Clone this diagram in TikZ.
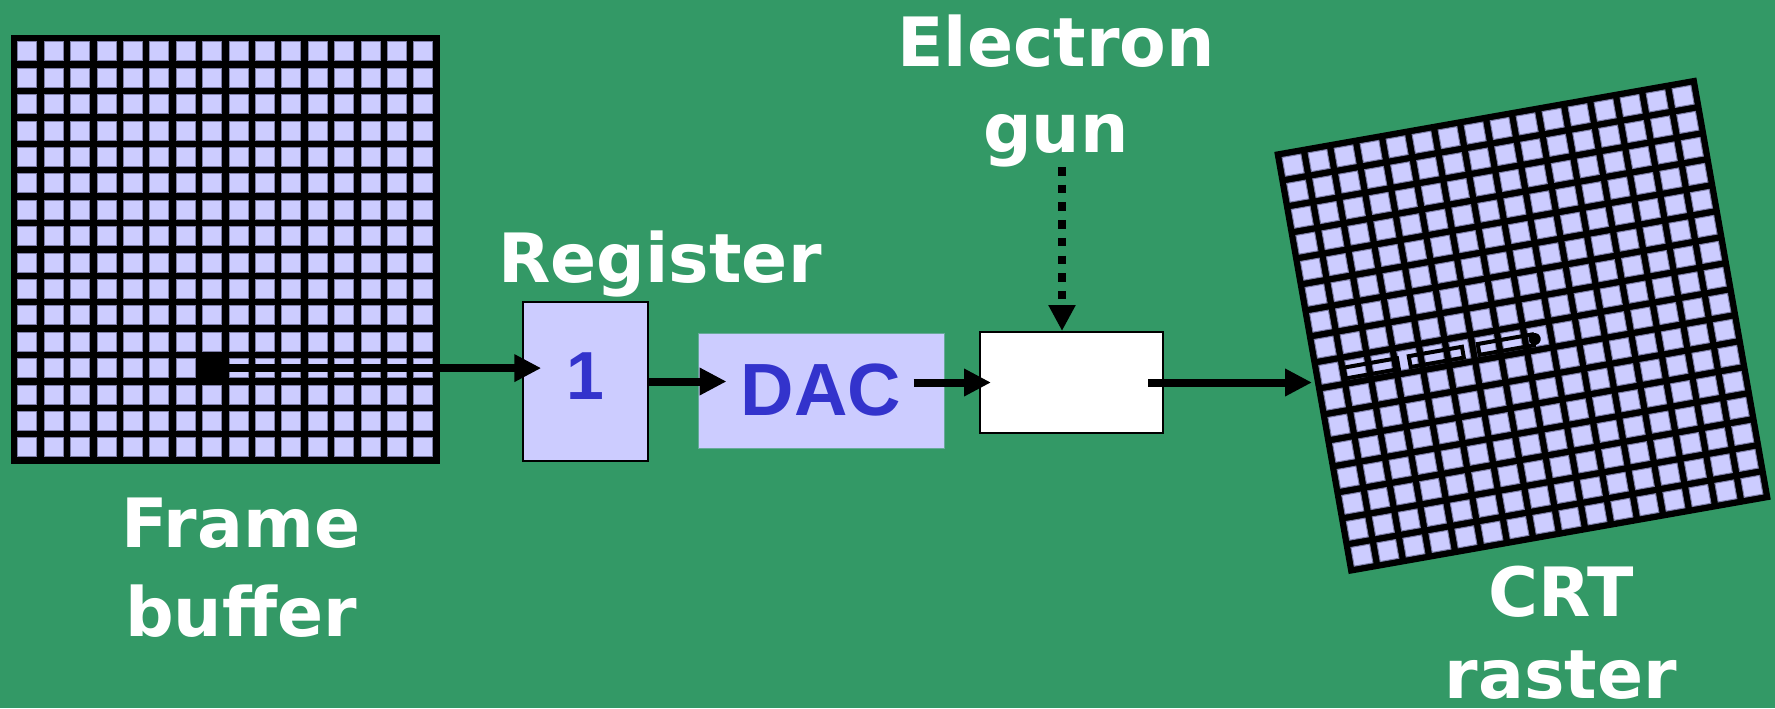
\documentclass[tikz,border=0pt]{standalone}
\usepackage{fontspec}
\usetikzlibrary{arrows.meta}
\newfontfamily\lblfont{DejaVu Sans}
\newfontfamily\boxfont{Liberation Sans}
\definecolor{bg}{HTML}{339966}
\definecolor{lav}{HTML}{CCCCFF}
\definecolor{ink}{HTML}{3333CC}
\definecolor{celledge}{HTML}{7E7EA8}
\definecolor{dacedge}{HTML}{66AA99}

\tikzset{
  cell/.style={fill=lav, draw=celledge, line width=0.5pt},
  lbl/.style={text=white, font=\lblfont\bfseries\fontsize{34}{43}\selectfont, align=center, inner sep=0pt},
  arr/.style={line width=4pt, -{Triangle[length=13.5pt,width=13pt]}},
  beam/.style={line width=4.25pt, dash pattern=on 4.25pt off 4.6pt, -{Triangle[length=13pt,width=12.8pt]}},
  trace/.style={line width=2pt},
}

% 16 x 16 pixel grid, top-left corner at the local origin (units: px);
% each cell is 20px with a thin darker rim drawn just inside it
\newcommand{\pixgrid}{%
  \fill[black] (0,0) rectangle (428.6,428.6);
  \foreach \i in {0,...,15}{\foreach \j in {0,...,15}{%
    \path[cell] ({6.8+\i*26.4},{6.8+\j*26.4}) rectangle ++(19,19);}}%
}

\begin{document}
\begin{tikzpicture}[x=0.5pt,y=-0.5pt]
\fill[bg] (0,0) rectangle (1775,708);
\useasboundingbox (0,0) rectangle (1775,708);

% frame buffer with the pixel being read
\begin{scope}[shift={(11,35)}]
  \pixgrid
  \node[fill=black, minimum size=10pt, inner sep=0pt] (px) at ({6.3+7*26.4+10},{6.3+12*26.4+10}) {};
\end{scope}

% CRT raster, tilted, with the dashed beam trace ending at the spot
\begin{scope}[shift={(1522.5,325.75)}, rotate=10, shift={(-214.3,-214.3)}]
  \pixgrid
  \foreach \a/\b in {31/85, 97/151, 167/222}
    \draw[trace] (\a,224.5) rectangle (\b,235.5);
  \fill[black] (224,229.5) circle[radius=3pt];
\end{scope}
\coordinate (crtin) at (1312,382.5);

% labels
\node[lbl, anchor=north] (fblabel) at (241,498) {Frame\\[1.5pt]buffer};
\node[lbl, anchor=base] (reglabel) at (660,282) {Register};
\node[lbl, anchor=north] (gunlabel) at (1056,14) {Electron\\gun};
\node[lbl, anchor=north] (crtlabel) at (1561,566) {CRT\\[-2pt]raster};

% processing chain
\node[draw=black, line width=0.75pt, fill=lav, minimum width=62.5pt, minimum height=79.5pt,
      inner sep=0pt, text=ink, font=\boxfont\bfseries\fontsize{34}{40}\selectfont,
      text depth=5pt] (reg) at (585.5,381.5) {1};
\node[draw=dacedge, line width=0.5pt, fill=lav, minimum width=123pt, minimum height=57.5pt,
      inner sep=0pt, text=ink, font=\boxfont\bfseries\fontsize{37}{44}\selectfont] (dac) at (821,390.5) {DAC};
\node[draw=black, line width=1pt, fill=white, minimum width=91.5pt, minimum height=50.5pt,
      inner sep=0pt] (gunbox) at (1071.5,382.5) {};
\coordinate (beamtop) at (1062,167);

% connectors
\draw[arr, shorten >=-9.5pt] (px.center) -- (px.center -| reg.west);
\draw[arr, shorten >=-14.5pt] (reg.east) -- (reg.east -| dac.west);
\draw[arr, shorten <=-15.5pt, shorten >=-6pt] (dac.east |- gunbox.west) -- (gunbox.west);
\draw[arr, shorten <=-8pt] (gunbox.east) -- (crtin);
\draw[beam] (beamtop) -- (beamtop |- gunbox.north);
\end{tikzpicture}
\end{document}
